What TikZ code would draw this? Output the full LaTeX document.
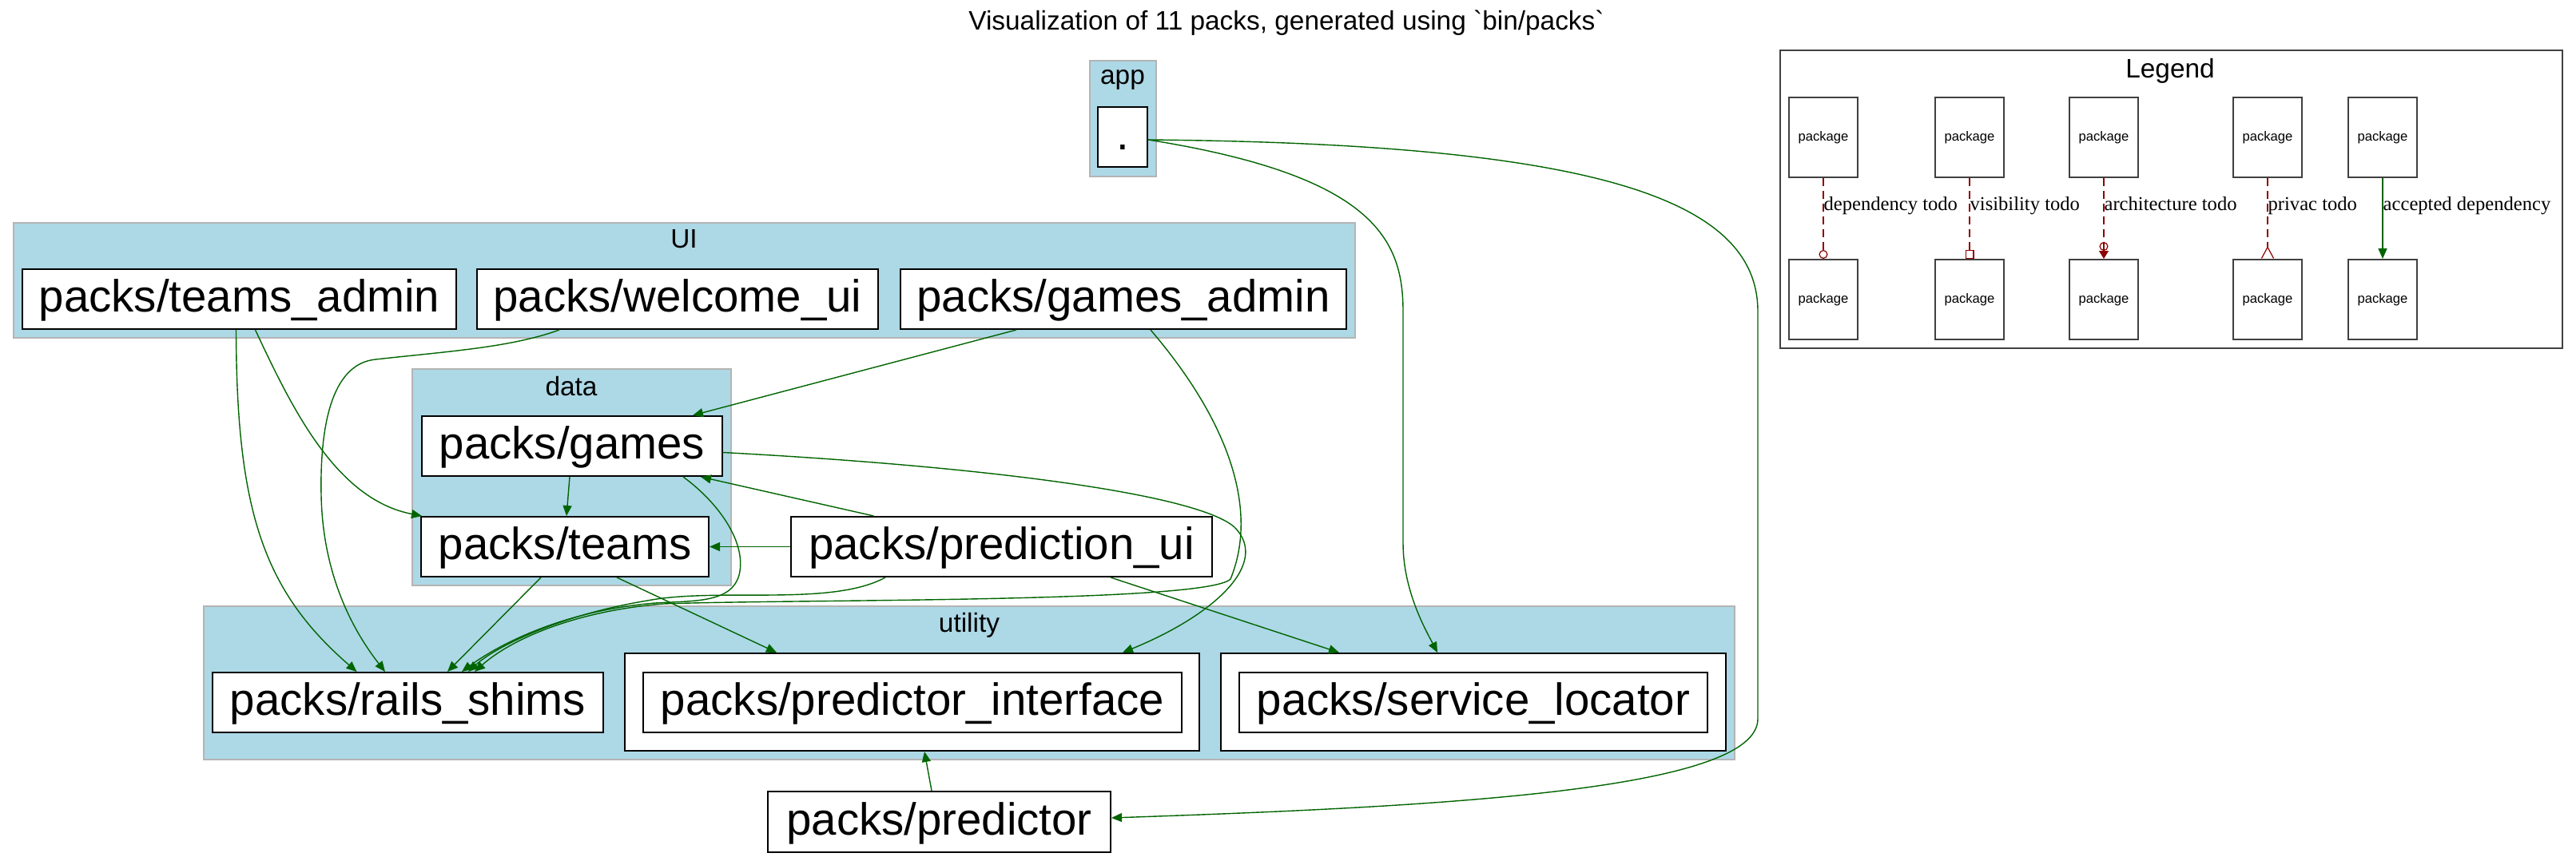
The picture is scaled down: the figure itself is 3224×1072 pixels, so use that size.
\documentclass[tikz,border=0pt]{standalone}
\usepackage{fontspec}
\setmainfont{Liberation Sans}
\newfontfamily\legendserif{Liberation Serif}
\usetikzlibrary{arrows.meta}
\definecolor{clusterblue}{HTML}{ADD8E6}
\definecolor{clusterline}{HTML}{B4B4B4}
\definecolor{depgreen}{HTML}{006400}
\definecolor{tododark}{HTML}{8B0000}

\begin{document}
\begin{tikzpicture}[x=0.5pt,y=-0.5pt,
cluster/.style={draw=clusterline,fill=clusterblue,line width=1pt},
clusterlabel/.style={inner sep=0pt,anchor=base,font=\fontsize{16.7}{18}\selectfont},
packbox/.style={draw,fill=white,line width=1pt,inner sep=0pt,minimum height=37.5pt,text height=21pt,text depth=5pt,font=\fontsize{28.2}{30}\selectfont},
groupbox/.style={draw,fill=white,line width=1pt,inner sep=0pt,minimum height=61pt},
dep/.style={depgreen,line width=.7pt,-{Triangle[length=6.5pt,width=5.5pt]}},
legendpkg/.style={draw=black!75,line width=1pt,inner sep=0pt,minimum width=43pt,minimum height=50pt,font=\fontsize{8.3}{9}\selectfont},
todo/.style={tododark,line width=.6pt,dash pattern=on 5pt off 3pt},
legendlabel/.style={pos=.34,anchor=west,inner sep=0pt,text=black,text height=9pt,text depth=2.7pt,font=\legendserif\fontsize{12.3}{14}\selectfont}]

\fill[white] (0,0) rectangle (3224,1072);
\draw (1610,37) node[clusterlabel] (title) {Visualization of 11 packs, generated using \textasciigrave bin/packs\textasciigrave};

\draw[cluster] (1364,76) rectangle (1447,221);
\draw[cluster] (17,279) rectangle (1696,423);
\draw[cluster] (516,462) rectangle (915,733);
\draw[cluster] (255,759) rectangle (2171,951);
\draw (1405,105) node[clusterlabel] (applabel) {app};
\draw (856,310) node[clusterlabel] (uilabel) {UI};
\draw (715,495) node[clusterlabel] (datalabel) {data};
\draw (1213,791) node[clusterlabel] (utilitylabel) {utility};

\draw (1405,171.5) node[packbox,minimum width=31pt] (app) {.};
\draw (299.5,374.5) node[packbox,minimum width=271.5pt] (teamsadmin) {packs/teams\_admin};
\draw (848,374.5) node[packbox,minimum width=251pt] (welcomeui) {packs/welcome\_ui};
\draw (1406,374.5) node[packbox,minimum width=279pt] (gamesadmin) {packs/games\_admin};
\draw (716,558.5) node[packbox,minimum width=188pt] (games) {packs/games};
\draw (707,684.5) node[packbox,minimum width=180pt] (teams) {packs/teams};
\draw (1253.5,684.5) node[packbox,minimum width=263.5pt] (predictionui) {packs/prediction\_ui};
\draw (510.5,879.5) node[packbox,minimum width=244.5pt] (railsshims) {packs/rails\_shims};
\draw (1141.5,879) node[groupbox,minimum width=359.5pt] (interfacebox) {};
\draw (1142,879.5) node[packbox,minimum width=337pt] (interface) {packs/predictor\_interface};
\draw (1844,879) node[groupbox,minimum width=316pt] (locatorbox) {};
\draw (1844,879.5) node[packbox,minimum width=293pt] (locator) {packs/service\_locator};
\draw (1175.5,1029) node[packbox,minimum width=214.5pt,minimum height=38pt] (predictor) {packs/predictor};

\draw[dep] ([yshift=-1.75pt]app.east) .. controls (1720,220) and (1756,300) .. (1756,390) -- (1756,680) .. controls (1756,740) and (1785,790) .. ([xshift=-22.5pt]locatorbox.north);
\draw[dep] ([yshift=-1.75pt]app.east) .. controls (2000,180) and (2200,250) .. (2200,390) -- (2200,900) .. controls (2200,990) and (1800,1010) .. ([yshift=2.5pt]predictor.east);
\draw[dep] ([xshift=-67pt]gamesadmin.south) -- ([xshift=75.5pt]games.north);
\draw[dep] ([xshift=17pt]gamesadmin.south) .. controls (1540,530) and (1575,640) .. (1540,725) .. controls (1510,755) and (1000,750) .. (830,756) .. controls (720,765) and (640,800) .. ([xshift=41.75pt]railsshims.north);
\draw[dep] ([xshift=-2pt]teamsadmin.south) .. controls (296,640) and (330,740) .. ([xshift=-32pt]railsshims.north);
\draw[dep] ([xshift=10pt]teamsadmin.south) .. controls (365,510) and (420,625) .. ([xshift=1pt]teams.north west);
\draw[dep] ([xshift=-74pt]welcomeui.south) .. controls (640,435) and (560,440) .. (470,450) .. controls (420,455) and (400,520) .. (402,620) .. controls (404,730) and (450,800) .. ([xshift=-14.25pt]railsshims.north);
\draw[dep] ([xshift=-1.5pt]games.south) -- ([xshift=1pt]teams.north);
\draw[dep] ([xshift=-80pt]predictionui.north) -- ([xshift=80.5pt]games.south);
\draw[dep] (predictionui.west) -- (teams.east);
\draw[dep] ([xshift=69.5pt]games.south) .. controls (900,630) and (935,680) .. (925,720) .. controls (915,755) and (870,752) .. (820,755) .. controls (700,765) and (620,810) .. ([xshift=33.75pt]railsshims.north);
\draw[dep] ([xshift=-15pt]teams.south) -- ([xshift=24.75pt]railsshims.north);
\draw[dep] ([xshift=32.5pt]teams.south) -- ([xshift=-84.75pt]interfacebox.north);
\draw[dep] ([xshift=-72.75pt]predictionui.south) .. controls (1040,760) and (900,735) .. (810,752) .. controls (700,770) and (620,810) .. ([xshift=37.75pt]railsshims.north);
\draw[dep] ([xshift=68.25pt]predictionui.south) -- ([xshift=-84pt]locatorbox.north);
\draw[dep] ([yshift=-4pt]games.east) .. controls (1250,585) and (1500,620) .. (1545,660) .. controls (1590,705) and (1520,770) .. ([xshift=131.75pt]interfacebox.north);
\draw[dep] ([xshift=-4.75pt]predictor.north) -- ([xshift=7.75pt]interfacebox.south);

\draw[draw=black!75,line width=1pt] (2228,63) rectangle (3207,436);
\draw (2716,97) node[clusterlabel] (legendtitle) {Legend};
\draw (2282,172) node[legendpkg] (deptop) {package};
\draw (2282,375) node[legendpkg] (depbottom) {package};
\draw (2465,172) node[legendpkg] (vistop) {package};
\draw (2465,375) node[legendpkg] (visbottom) {package};
\draw (2633,172) node[legendpkg] (archtop) {package};
\draw (2633,375) node[legendpkg] (archbottom) {package};
\draw (2838,172) node[legendpkg] (privtop) {package};
\draw (2838,375) node[legendpkg] (privbottom) {package};
\draw (2982,172) node[legendpkg] (acctop) {package};
\draw (2982,375) node[legendpkg] (accbottom) {package};

\draw[todo,-{Circle[open,length=5.5pt,width=5.5pt]}] (deptop.south) -- node[legendlabel] {dependency todo} (depbottom.north);
\draw[todo,-{Square[open,length=5.5pt,width=5.5pt]}] (vistop.south) -- node[legendlabel] {visibility todo} (visbottom.north);
\draw[todo,-{Circle[open,length=5.5pt,width=5.5pt] Triangle[length=5pt,width=6pt]}] (archtop.south) -- node[legendlabel] {architecture todo} (archbottom.north);
\draw[todo,-{Straight Barb[reversed,length=7pt,width=7.5pt]}] (privtop.south) -- node[legendlabel] {privac todo} (privbottom.north);
\draw[dep] (acctop.south) -- node[legendlabel] {accepted dependency} (accbottom.north);

\end{tikzpicture}
\end{document}
